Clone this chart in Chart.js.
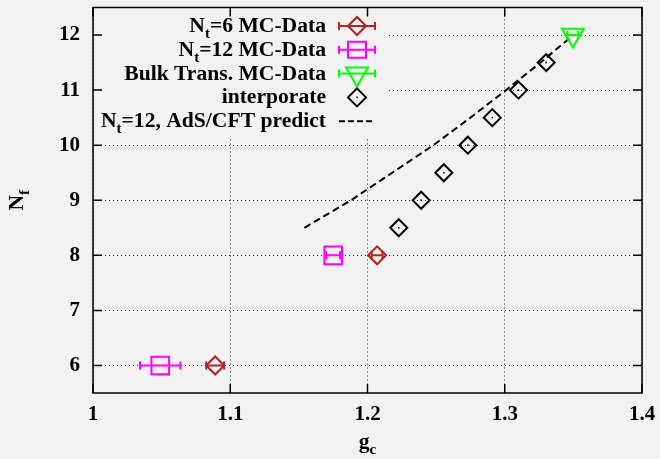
<!DOCTYPE html>
<html>
<head>
<meta charset="utf-8">
<script src="https://cdn.jsdelivr.net/npm/chart.js@4"></script>
<style>html,body{margin:0;padding:0;background:#f2f2f2}canvas{display:block}</style>
</head>
<body>
<canvas id="chart" width="660" height="459"></canvas>
<script>
// data (g_c vs N_f)
const nt6G = [1.089, 1.207];
const nt6Nf = [6, 8];
const nt6Err = [0.0065, 0.004];

const nt12G = [1.049, 1.175];
const nt12Nf = [6, 8];
const nt12Err = [0.0147, 0.005];

const bulkG = [1.3496];
const bulkNf = [12];
const bulkErr = [0.004];

const interpG = [1.2228, 1.2391, 1.2556, 1.2731, 1.2909, 1.3100, 1.3302];
const interpNf = [8.5, 9, 9.5, 10, 10.5, 11, 11.5];

const adsG = [1.154, 1.188, 1.218, 1.248, 1.275, 1.301, 1.326, 1.35];
const adsNf = [8.5, 9, 9.5, 10, 10.5, 11, 11.5, 12];

const xTicks = [1, 1.1, 1.2, 1.3, 1.4];
const yTicks = [6, 7, 8, 9, 10, 11, 12];

const bg = "#f2f2f2";
const serif = "'Liberation Serif', 'Times New Roman', serif";
const mainFont = "bold 21.6px " + serif;
const subFont = "bold 15px " + serif;

const pts = (xs, ys) => xs.map((x, i) => ({ x: x, y: ys[i] }));

// text with subscripts, parts = [[text, isSub], ...]
function richText(ctx, parts, x, y, align) {
  let w = 0;
  parts.forEach(p => { ctx.font = p[1] ? subFont : mainFont; w += ctx.measureText(p[0]).width; });
  let cx = align === "right" ? x - w : align === "center" ? x - w / 2 : x;
  ctx.textAlign = "left";
  ctx.textBaseline = "alphabetic";
  ctx.fillStyle = "#000";
  parts.forEach(p => {
    ctx.font = p[1] ? subFont : mainFont;
    ctx.fillText(p[0], cx, p[1] ? y + 6 : y);
    cx += ctx.measureText(p[0]).width;
  });
}

function errBar(ctx, x1, x2, y, color) {
  ctx.strokeStyle = color;
  ctx.lineWidth = 2;
  ctx.beginPath();
  ctx.moveTo(x1, y); ctx.lineTo(x2, y);
  ctx.moveTo(x1, y - 4); ctx.lineTo(x1, y + 4);
  ctx.moveTo(x2, y - 4); ctx.lineTo(x2, y + 4);
  ctx.stroke();
}

function marker(ctx, kind, x, y, color) {
  ctx.strokeStyle = color;
  ctx.lineWidth = 2;
  ctx.beginPath();
  if (kind === "diamond") {
    ctx.moveTo(x - 9, y); ctx.lineTo(x, y - 9); ctx.lineTo(x + 9, y); ctx.lineTo(x, y + 9); ctx.closePath();
  } else if (kind === "square") {
    ctx.rect(x - 9, y - 8, 18, 16);
  } else if (kind === "triangle") {
    ctx.moveTo(x - 11, y - 6); ctx.lineTo(x + 11, y - 6); ctx.lineTo(x, y + 13); ctx.closePath();
  }
  ctx.stroke();
}

const legendRows = [
  { parts: [["N", 0], ["t", 1], ["=6 MC-Data", 0]], kind: "diamond", color: "#b22222", bar: true },
  { parts: [["N", 0], ["t", 1], ["=12 MC-Data", 0]], kind: "square", color: "#ff00ff", bar: true },
  { parts: [["Bulk Trans. MC-Data", 0]], kind: "triangle", color: "#00ff00", bar: true },
  { parts: [["interporate", 0]], kind: "diamond", color: "#000", bar: false, dot: true },
  { parts: [["N", 0], ["t", 1], ["=12, AdS/CFT predict", 0]], kind: "dash", color: "#000" }
];

const errSets = [
  { g: nt6G, nf: nt6Nf, err: nt6Err, color: "#b22222" },
  { g: nt12G, nf: nt12Nf, err: nt12Err, color: "#ff00ff" },
  { g: bulkG, nf: bulkNf, err: bulkErr, color: "#00ff00" }
];

const decor = {
  id: "decor",
  beforeDraw(chart) {
    const ctx = chart.ctx;
    ctx.save();
    ctx.fillStyle = bg;
    ctx.fillRect(0, 0, chart.width, chart.height);
    ctx.restore();
  },
  beforeDatasetsDraw(chart) {
    // opaque key box hides the grid behind it
    const a = chart.chartArea, ctx = chart.ctx;
    ctx.save();
    ctx.fillStyle = bg;
    ctx.fillRect(a.left + 1, a.top + 1, 385 - a.left, 137 - a.top);
    ctx.restore();
  },
  afterDatasetsDraw(chart) {
    const ctx = chart.ctx, xs = chart.scales.x, ys = chart.scales.y;
    ctx.save();
    errSets.forEach(s => {
      s.g.forEach((g, i) => {
        errBar(ctx, xs.getPixelForValue(g - s.err[i]), xs.getPixelForValue(g + s.err[i]), ys.getPixelForValue(s.nf[i]), s.color);
      });
    });
    ctx.fillStyle = "#000";
    interpG.forEach((g, i) => {
      ctx.fillRect(xs.getPixelForValue(g) - 0.75, ys.getPixelForValue(interpNf[i]) - 0.75, 1.5, 1.5);
    });
    ctx.restore();
  },
  afterDraw(chart) {
    const ctx = chart.ctx, a = chart.chartArea, xs = chart.scales.x, ys = chart.scales.y;
    ctx.save();
    // border and inward ticks
    ctx.strokeStyle = "#000";
    ctx.lineWidth = 1.5;
    ctx.strokeRect(a.left, a.top, a.right - a.left, a.bottom - a.top);
    ctx.beginPath();
    xTicks.forEach(v => {
      const px = xs.getPixelForValue(v);
      ctx.moveTo(px, a.bottom); ctx.lineTo(px, a.bottom - 9);
      ctx.moveTo(px, a.top); ctx.lineTo(px, a.top + 9);
    });
    yTicks.forEach(v => {
      const py = ys.getPixelForValue(v);
      ctx.moveTo(a.left, py); ctx.lineTo(a.left + 9, py);
      ctx.moveTo(a.right, py); ctx.lineTo(a.right - 9, py);
    });
    ctx.stroke();

    // key
    legendRows.forEach((r, i) => {
      const y = 26 + i * 23.8;
      richText(ctx, r.parts, 326, y + 6, "right");
      if (r.kind === "dash") {
        ctx.save();
        ctx.strokeStyle = "#000";
        ctx.lineWidth = 2;
        ctx.setLineDash([6, 3]);
        ctx.beginPath();
        ctx.moveTo(339, y); ctx.lineTo(375, y);
        ctx.stroke();
        ctx.restore();
      } else {
        if (r.bar) errBar(ctx, 339, 375, y, r.color);
        marker(ctx, r.kind, 357, y, r.color);
        if (r.dot) { ctx.fillStyle = "#000"; ctx.fillRect(356.25, y - 0.75, 1.5, 1.5); }
      }
    });

    // axis titles
    richText(ctx, [["g", 0], ["c", 1]], (a.left + a.right) / 2, 448, "center");
    ctx.translate(23, (a.top + a.bottom) / 2);
    ctx.rotate(-Math.PI / 2);
    richText(ctx, [["N", 0], ["f", 1]], 0, 0, "center");
    ctx.restore();
  }
};

const tickFont = { family: serif, size: 21, weight: "bold" };

new Chart(document.getElementById("chart"), {
  type: "scatter",
  data: {
    datasets: [
      { label: "Nt=6 MC-Data", data: pts(nt6G, nt6Nf), pointStyle: "rectRot", pointRadius: 9,
        borderColor: "#b22222", backgroundColor: "transparent", borderWidth: 2 },
      { label: "Nt=12 MC-Data", data: pts(nt12G, nt12Nf), pointStyle: "rect", pointRadius: 12.5,
        borderColor: "#ff00ff", backgroundColor: "transparent", borderWidth: 2 },
      { label: "Bulk Trans. MC-Data", data: pts(bulkG, bulkNf), pointStyle: "triangle", rotation: 180, pointRadius: 12.5,
        borderColor: "#00ff00", backgroundColor: "transparent", borderWidth: 2 },
      { label: "interporate", data: pts(interpG, interpNf), pointStyle: "rectRot", pointRadius: 8.5,
        borderColor: "#000", backgroundColor: "transparent", borderWidth: 2 },
      { label: "Nt=12, AdS/CFT predict", data: pts(adsG, adsNf), showLine: true, pointRadius: 0,
        borderColor: "#000", borderWidth: 2, borderDash: [7, 4], fill: false }
    ]
  },
  plugins: [decor],
  options: {
    responsive: false,
    animation: false,
    events: [],
    layout: { autoPadding: false, padding: { top: 7.5, right: 18, left: 0, bottom: 0 } },
    plugins: { legend: { display: false }, tooltip: { enabled: false } },
    scales: {
      x: {
        type: "linear", min: 1, max: 1.4,
        afterBuildTicks: s => { s.ticks = xTicks.map(v => ({ value: v })); },
        afterFit: s => { s.height = 66; s.paddingLeft = 0; s.paddingRight = 0; },
        ticks: { font: tickFont, color: "#000", padding: 9, callback: v => String(v), maxRotation: 0 },
        grid: { color: "rgba(0,0,0,0.85)", lineWidth: 1, drawTicks: false },
        border: { display: false, dash: [1, 3] }
      },
      y: {
        type: "linear", min: 5.5, max: 12.5,
        afterBuildTicks: s => { s.ticks = yTicks.map(v => ({ value: v })); },
        afterFit: s => { s.width = 93; s.paddingTop = 0; s.paddingBottom = 0; },
        ticks: { font: tickFont, color: "#000", padding: 13, callback: v => String(v) },
        grid: { color: "rgba(0,0,0,0.85)", lineWidth: 1, drawTicks: false },
        border: { display: false, dash: [1, 3] }
      }
    }
  }
});
</script>
</body>
</html>
